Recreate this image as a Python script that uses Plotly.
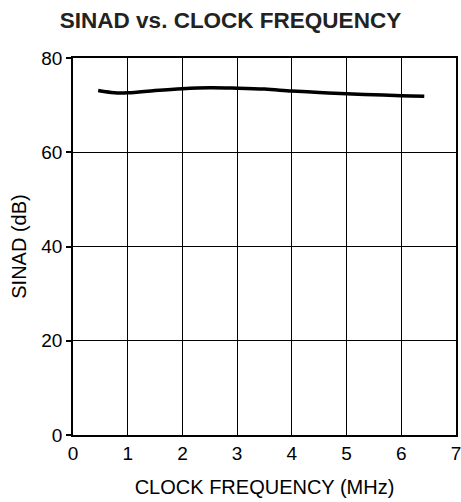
import plotly.graph_objects as go

freq_mhz = [0.46, 0.7, 1.0, 1.5, 2.0, 2.5, 3.0, 3.5, 4.0, 4.5, 5.0, 5.5, 6.0, 6.42]
sinad_db = [73.1, 72.7, 72.6, 73.1, 73.5, 73.7, 73.6, 73.4, 73.0, 72.7, 72.4, 72.2, 72.0, 71.9]

x_ticks = [0, 1, 2, 3, 4, 5, 6, 7]
y_ticks = [0, 20, 40, 60, 80]

fig = go.Figure()
fig.add_trace(go.Scatter(x=freq_mhz, y=sinad_db, mode="lines",
                         line=dict(color="black", width=3.5, shape="spline"),
                         showlegend=False, hoverinfo="skip"))

W, H = 461, 502
font_family = "Liberation Sans, Arial, sans-serif"
fig.update_layout(
    width=W, height=H,
    margin=dict(l=73, r=5, t=58, b=67),
    paper_bgcolor="white", plot_bgcolor="white",
    title=dict(text="<b>SINAD vs. CLOCK FREQUENCY</b>", x=230.5 / W, xanchor="center",
               y=1 - 20 / H, yanchor="middle",
               font=dict(family=font_family, size=22.5, color="#222")),
    font=dict(family=font_family, size=19, color="black"),
    xaxis=dict(range=[0, 7], tickvals=x_ticks, showgrid=True, gridcolor="black", gridwidth=1,
               showline=True, linecolor="black", linewidth=1.5, mirror=True,
               ticks="", zeroline=False, automargin=False, ticklabeloverflow="allow",
               tickfont=dict(size=19),
               title=dict(text="CLOCK FREQUENCY (MHz)", standoff=17,
                          font=dict(size=20))),
    yaxis=dict(range=[0, 80], tickvals=y_ticks, showgrid=True, gridcolor="black", gridwidth=1,
               showline=True, linecolor="black", linewidth=1.5, mirror=True,
               ticks="outside", ticklen=5, tickcolor="black", tickwidth=1.5,
               zeroline=False, automargin=False, ticklabeloverflow="allow",
               tickfont=dict(size=19),
               title=dict(text="SINAD (dB)", standoff=9, font=dict(size=20))),
)
fig.write_html("out.html", config={"displayModeBar": False},
               post_script="document.body.style.margin='0';document.body.style.overflow='hidden';")
